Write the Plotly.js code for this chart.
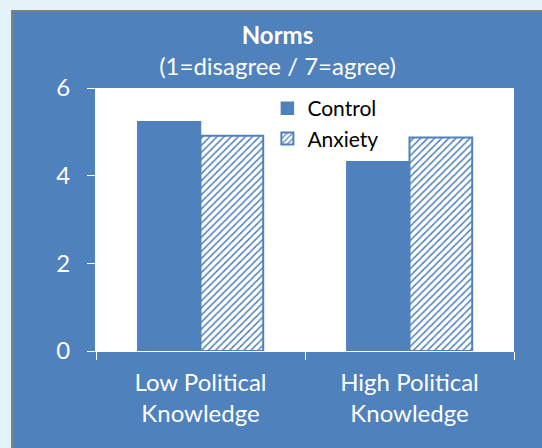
<!DOCTYPE html>
<html>
<head>
<meta charset="utf-8">
<script src="https://cdn.plot.ly/plotly-3.0.1.min.js"></script>
<style>
  html, body { margin: 0; padding: 0; background: #e4f2fa; width: 542px; height: 448px; overflow: hidden; }
  #panel { position: absolute; left: 11px; top: 10px; width: 529px; height: 436px;
           border-left: 2px solid #808080; border-top: 2px solid #808080; background: #4f81bd; }
  #chart { width: 529px; height: 436px; }
</style>
</head>
<body>
<div id="panel"><div id="chart"></div></div>
<script>
const categories = ["Low Political<br>Knowledge", "High Political<br>Knowledge"];
const controlValues = [5.23, 4.32];
const anxietyValues = [4.91, 4.87];
const seriesNames = ["Control", "Anxiety"];
const yTicks = [0, 2, 4, 6];

const blue = "#4f81bd";
const font = "Lato, 'Open Sans', sans-serif";

const traces = [
  {
    type: "bar", name: seriesNames[0], x: categories, y: controlValues,
    marker: { color: blue, line: { color: blue, width: 1.5 } },
    hoverinfo: "skip"
  },
  {
    type: "bar", name: seriesNames[1], x: categories, y: anxietyValues,
    marker: {
      color: "white",
      line: { color: blue, width: 2 },
      pattern: { shape: "/", fgcolor: blue, bgcolor: "white", size: 5, solidity: 0.3 }
    },
    hoverinfo: "skip"
  }
];

const layout = {
  width: 529, height: 436,
  paper_bgcolor: blue, plot_bgcolor: "white",
  margin: { l: 83, r: 28, t: 76, b: 97 },
  font: { family: font, color: "white", size: 22 },
  title: {
    text: "<b>Norms</b><br>(1=disagree / 7=agree)",
    x: 0.5, xref: "container", xanchor: "center",
    y: 1 - 32 / 436, yref: "container", yanchor: "middle",
    font: { family: font, color: "white", size: 24 }
  },
  barmode: "group", bargap: 0.4, bargroupgap: 0,
  showlegend: true,
  legend: {
    x: 0.41, xref: "paper", xanchor: "left",
    y: 1, yref: "paper", yanchor: "top",
    bgcolor: "white", font: { family: font, color: "black", size: 21 },
    tracegroupgap: 0, itemwidth: 30
  },
  xaxis: {
    type: "category", showgrid: false, showline: true, linecolor: "white", linewidth: 1,
    ticks: "outside", tickson: "boundaries", ticklen: 8, tickcolor: "white", ticklabelstandoff: 10,
    tickfont: { family: font, color: "white", size: 24 }, fixedrange: true
  },
  yaxis: {
    range: [0, 6], tickvals: yTicks, showgrid: false, zeroline: false,
    showline: true, linecolor: "white", linewidth: 1,
    ticks: "outside", ticklen: 8, tickcolor: "white", ticklabelstandoff: 12,
    tickfont: { family: font, color: "white", size: 24 }, fixedrange: true
  }
};

Plotly.newPlot("chart", traces, layout, { displayModeBar: false, staticPlot: true });
</script>
</body>
</html>
